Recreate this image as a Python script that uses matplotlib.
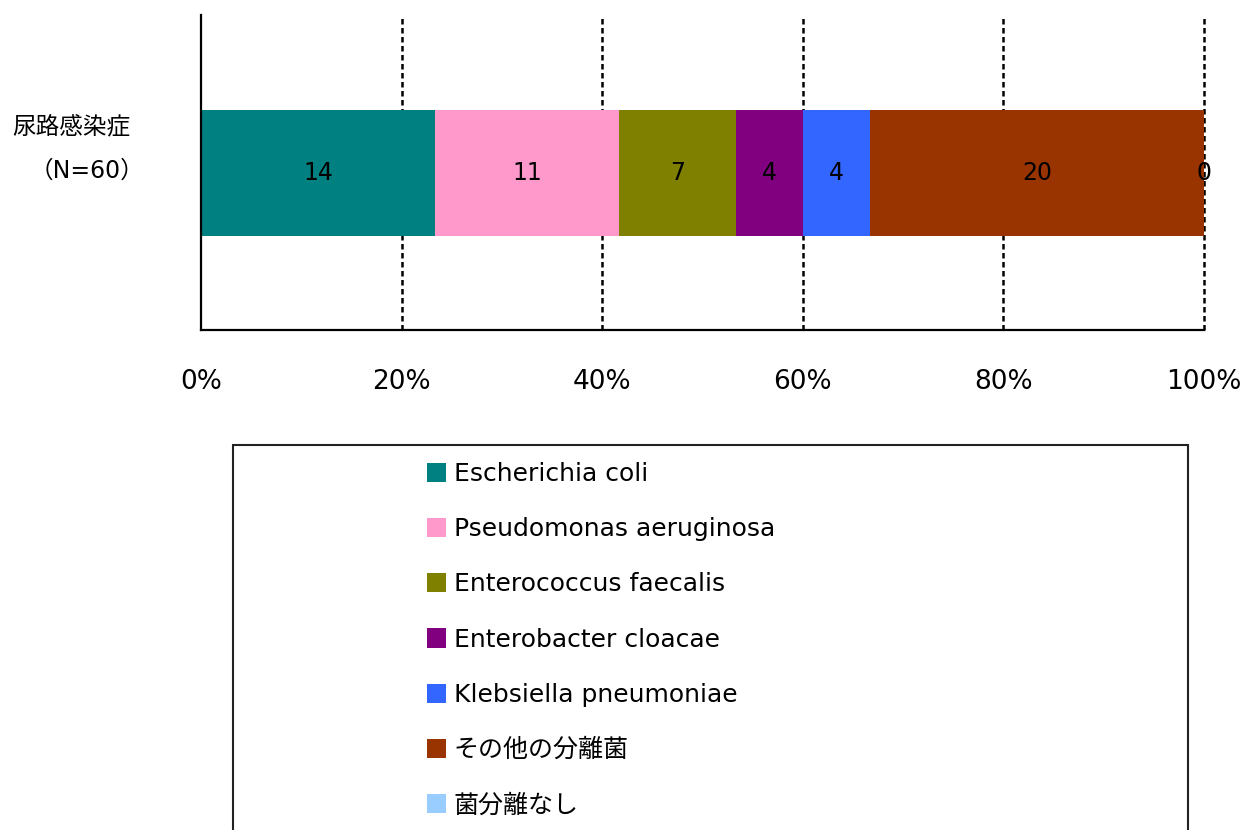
import matplotlib
matplotlib.use('Agg')
import matplotlib.pyplot as plt
from matplotlib.patches import Rectangle

plt.rcParams['font.family'] = ['DejaVu Sans', 'Noto Sans CJK JP']

# data
category = '尿路感染症'
n_label = '（N=60）'
organisms = ['Escherichia coli', 'Pseudomonas aeruginosa', 'Enterococcus faecalis',
             'Enterobacter cloacae', 'Klebsiella pneumoniae', 'その他の分離菌', '菌分離なし']
counts = [14, 11, 7, 4, 4, 20, 0]
colors = ['#008080', '#FF99CC', '#808000', '#800080', '#3366FF', '#993300', '#99CCFF']
xticks = [0, 0.2, 0.4, 0.6, 0.8, 1.0]
xticklabels = ['0%', '20%', '40%', '60%', '80%', '100%']

total = sum(counts)

fig = plt.figure(figsize=(12.44, 8.3), dpi=100)
ax = fig.add_axes([0.1616, 0.6024, 0.8063, 0.3795])

left = 0.0
for name, c, col in zip(organisms, counts, colors):
    w = c / total
    bars = ax.barh(0, w, left=left, height=0.4, color=col, label=name)
    ax.bar_label(bars, labels=[str(c)], label_type='center', fontsize=17, color='black')
    left += w

ax.set_xlim(0, 1)
ax.set_ylim(-0.5, 0.5)
ax.set_xticks(xticks)
ax.set_xticklabels(xticklabels, fontsize=19)
ax.tick_params(axis='x', length=0, pad=28)
ax.set_yticks([])
ax.set_axisbelow(True)
ax.grid(axis='x', color='black', linestyle=(0, (2.2, 1.4)), linewidth=1.8)
gridlines = ax.get_xgridlines()
for gl in gridlines:
    gl.set_clip_on(False)
gridlines[0].set_visible(False)  # left spine sits at 0%

for s in ['top', 'right']:
    ax.spines[s].set_visible(False)
for s in ['left', 'bottom']:
    ax.spines[s].set_linewidth(1.6)
    ax.spines[s].set_color('black')
    ax.spines[s].set_zorder(3)

ax.text(-0.07, 0.6476, category, transform=ax.transAxes, ha='right', va='center', fontsize=17)
ax.text(-0.057, 0.5048, n_label, transform=ax.transAxes, ha='right', va='center', fontsize=17)

# legend frame
fig.patches.append(Rectangle((0.1873, -0.1), 0.955 - 0.1873, 0.4639 + 0.1,
                             transform=fig.transFigure, fill=False,
                             edgecolor='#222222', linewidth=1.5))

handles, labels = ax.get_legend_handles_labels()
fig.legend(handles, labels, loc='upper left', bbox_to_anchor=(0.3432, 0.4434),
           frameon=False, fontsize=18, borderpad=0, borderaxespad=0,
           handlelength=0.76, handleheight=0.8, handletextpad=0.32,
           labelspacing=1.25)

fig.savefig('out.png', dpi=100)
